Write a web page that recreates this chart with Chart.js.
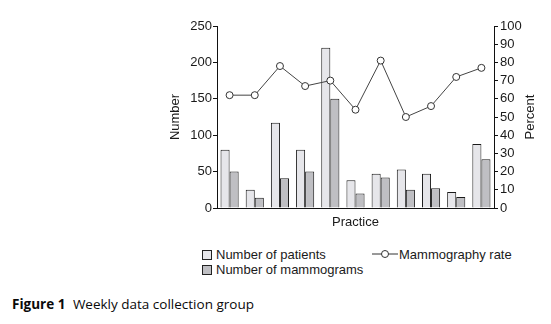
<!DOCTYPE html>
<html>
<head>
<meta charset="utf-8">
<script src="https://cdn.jsdelivr.net/npm/chart.js@4.4.1/dist/chart.umd.min.js"></script>
<style>
  body { margin: 0; background: #fff; width: 551px; height: 324px; position: relative; overflow: hidden; }
  #wrap { position: absolute; left: 0; top: 0; width: 551px; height: 240px; }
  .leg { position: absolute; font: 13px "Liberation Sans", Arial, sans-serif; color: #1a1a1a; white-space: nowrap; line-height: 15px; }
  .box { display: inline-block; width: 8px; height: 8px; border: 1px solid #222; margin-right: 4px; vertical-align: -1px; }
  .sym { position: absolute; }
  #caption { position: absolute; left: 12px; top: 295px; font: 13.5px "Open Sans", sans-serif; color: #0a0a0a; white-space: nowrap; }
  #caption b { font-weight: 700; margin-right: 4px; }
</style>
</head>
<body>
<div id="wrap"><canvas id="chart"></canvas></div>

<div class="leg" style="left:202px; top:247px;"><span class="box" style="background:#e6e6ea"></span>Number of patients</div>
<div class="leg" style="left:202px; top:262px;"><span class="box" style="background:#bfbfc3"></span>Number of mammograms</div>
<svg class="sym" style="left:372px; top:248px;" width="26" height="12">
  <line x1="0" y1="6" x2="26" y2="6" stroke="#333" stroke-width="1"/>
  <circle cx="13" cy="6" r="3.5" fill="#fff" stroke="#333" stroke-width="1"/>
</svg>
<div class="leg" style="left:399px; top:247px;">Mammography rate</div>

<div id="caption"><b>Figure 1</b> Weekly data collection group</div>

<script>
const practices = ['1', '2', '3', '4', '5', '6', '7', '8', '9', '10', '11']
const patients = [80, 25, 117, 80, 220, 38, 47, 53, 47, 22, 88]
const mammograms = [50, 14, 41, 50, 150, 20, 42, 25, 27, 15, 67]
const rate = [62, 62, 78, 67, 70, 54, 81, 50, 56, 72, 77]

const font = { family: '"Liberation Sans", Arial, sans-serif', size: 13 }
const ink = '#1a1a1a'

// right axis title reads bottom-to-top, so draw it by hand
const percentTitle = {
  id: 'percentTitle',
  afterDraw(chart) {
    const ctx = chart.ctx
    const area = chart.chartArea
    ctx.save()
    ctx.translate(530, (area.top + area.bottom) / 2)
    ctx.rotate(-Math.PI / 2)
    ctx.font = '13px "Liberation Sans", Arial, sans-serif'
    ctx.fillStyle = ink
    ctx.textAlign = 'center'
    ctx.textBaseline = 'middle'
    ctx.fillText('Percent', 0, 0)
    ctx.restore()
  }
}

const ctx = document.getElementById('chart')

new Chart(ctx, {
  type: 'bar',
  data: {
    labels: practices,
    datasets: [{
      type: 'line',
      label: 'Mammography rate',
      data: rate,
      yAxisID: 'y1',
      order: 0,
      borderColor: '#444',
      borderWidth: 1,
      pointRadius: 3.5,
      pointBackgroundColor: '#fff',
      pointBorderColor: '#333',
      pointBorderWidth: 1,
      tension: 0
    }, {
      label: 'Number of patients',
      data: patients,
      yAxisID: 'y',
      order: 1,
      backgroundColor: '#e6e6ea',
      borderColor: '#1a1a1a',
      borderWidth: 1,
      barPercentage: 1,
      categoryPercentage: 0.72
    }, {
      label: 'Number of mammograms',
      data: mammograms,
      yAxisID: 'y',
      order: 2,
      backgroundColor: '#bfbfc3',
      borderColor: '#1a1a1a',
      borderWidth: 1,
      barPercentage: 1,
      categoryPercentage: 0.72
    }]
  },
  options: {
    responsive: true,
    maintainAspectRatio: false,
    animation: false,
    layout: { padding: { left: 164, right: 13, top: 26, bottom: 10 } },
    plugins: {
      legend: { display: false },
      tooltip: { enabled: false }
    },
    scales: {
      x: {
        offset: true,
        grid: { display: false },
        border: { display: true, color: '#111', width: 1 },
        ticks: { display: false },
        title: { display: true, text: 'Practice', color: ink, font: font, padding: { top: 7, bottom: 0 } },
        afterFit: s => { s.height = 22 }
      },
      y: {
        position: 'left',
        min: 0,
        max: 250,
        ticks: { stepSize: 50, color: ink, font: font, padding: 1, autoSkip: false },
        grid: { drawOnChartArea: false, drawTicks: true, tickLength: 4, tickColor: '#111' },
        border: { display: true, color: '#111', width: 1 },
        title: { display: true, text: 'Number', color: ink, font: font },
        afterFit: s => { s.width = 53 }
      },
      y1: {
        position: 'right',
        min: 0,
        max: 100,
        ticks: { stepSize: 10, color: ink, font: font, padding: 2, autoSkip: false },
        grid: { drawOnChartArea: false, drawTicks: true, tickLength: 4, tickColor: '#111' },
        border: { display: true, color: '#111', width: 1 },
        afterFit: s => { s.width = 44 }
      }
    }
  },
  plugins: [percentTitle]
})
</script>
</body>
</html>
